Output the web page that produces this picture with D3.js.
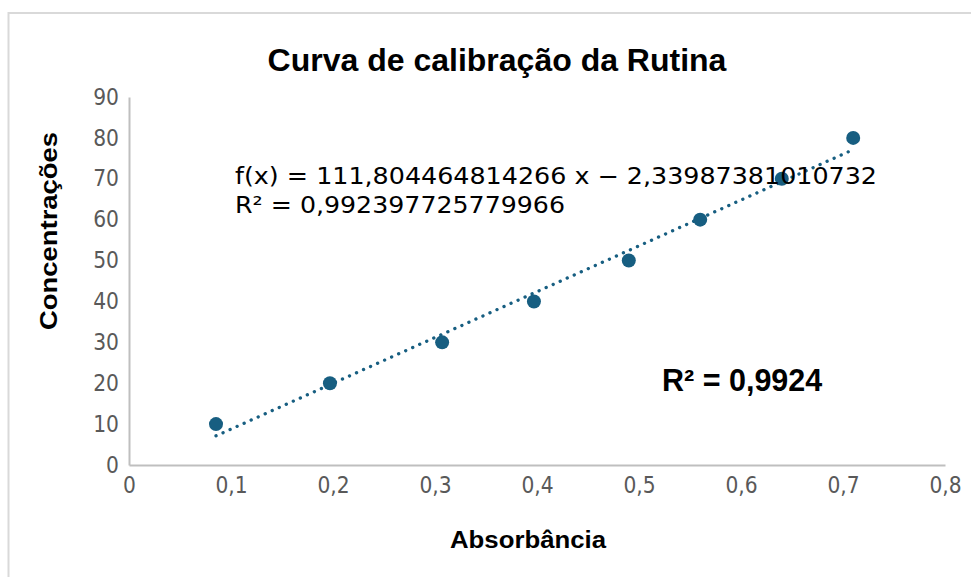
<!DOCTYPE html>
<html>
<head>
<meta charset="utf-8">
<script src="https://cdn.jsdelivr.net/npm/d3@7"></script>
<style>
  body { margin: 0; background: #fff; }
  svg { display: block; }
</style>
</head>
<body>
<div id="chart"></div>
<script>
// dados
const absorbancia = [0.0853, 0.197, 0.307, 0.397, 0.490, 0.560, 0.640, 0.710];
const concentracoes = [10, 20, 30, 40, 50, 60, 70, 80];
const xTicks = [0, 0.1, 0.2, 0.3, 0.4, 0.5, 0.6, 0.7, 0.8];
const yTicks = [0, 10, 20, 30, 40, 50, 60, 70, 80, 90];
const equacao = "f(x) = 111,804464814266 x \u2212 2,33987381010732";
const r2Texto = "R\u00b2 = 0,992397725779966";
const r2Curto = "R\u00b2 = 0,9924";

const width = 971, height = 577;
const margin = { top: 97, right: 26, bottom: 112, left: 129 };

const svg = d3.select("#chart").append("svg")
  .attr("width", width)
  .attr("height", height);

// moldura
svg.append("rect")
  .attr("x", 8.5).attr("y", 13)
  .attr("width", 980).attr("height", 600)
  .attr("fill", "none")
  .attr("stroke", "#d9d9d9")
  .attr("stroke-width", 2);

const x = d3.scaleLinear().domain([0, 0.8]).range([margin.left, width - margin.right]);
const y = d3.scaleLinear().domain([0, 90]).range([height - margin.bottom, margin.top]);

const fmt = d => String(d).replace(".", ",");
const tickFont = "'DejaVu Sans Condensed', 'DejaVu Sans'";

// eixo x
const gx = svg.append("g")
  .attr("transform", `translate(0,${y(0)})`)
  .call(d3.axisBottom(x).tickValues(xTicks).tickFormat(fmt).tickSize(0).tickPadding(12));
gx.select(".domain").attr("stroke", "#bfbfbf").attr("stroke-width", 2);
gx.selectAll("text")
  .attr("fill", "#595959")
  .style("font-family", tickFont)
  .style("font-size", "22.5px");

// eixo y
const gy = svg.append("g")
  .attr("transform", `translate(${x(0)},0)`)
  .call(d3.axisLeft(y).tickValues(yTicks).tickFormat(fmt).tickSize(0).tickPadding(10));
gy.select(".domain").attr("stroke", "#bfbfbf").attr("stroke-width", 2);
gy.selectAll("text")
  .attr("fill", "#595959")
  .style("font-family", tickFont)
  .style("font-size", "22.5px");

// linha de tendencia (regressao linear)
const n = absorbancia.length;
const mx = d3.mean(absorbancia), my = d3.mean(concentracoes);
let sxy = 0, sxx = 0;
for (let i = 0; i < n; i++) {
  sxy += (absorbancia[i] - mx) * (concentracoes[i] - my);
  sxx += (absorbancia[i] - mx) ** 2;
}
const slope = sxy / sxx, intercept = my - slope * mx;
const xr = d3.extent(absorbancia);

svg.append("line")
  .attr("x1", x(xr[0])).attr("y1", y(slope * xr[0] + intercept))
  .attr("x2", x(xr[1])).attr("y2", y(slope * xr[1] + intercept))
  .attr("stroke", "#175e81")
  .attr("stroke-width", 3.3)
  .attr("stroke-linecap", "round")
  .attr("stroke-dasharray", "0.1 7.6");

// pontos
svg.selectAll(".ponto")
  .data(absorbancia)
  .enter()
  .append("circle")
  .attr("class", "ponto")
  .attr("cx", d => x(d))
  .attr("cy", (d, i) => y(concentracoes[i]))
  .attr("r", 7)
  .attr("fill", "#175e81");

// titulo
svg.append("text")
  .attr("x", 497).attr("y", 71)
  .attr("text-anchor", "middle")
  .style("font-family", "'Liberation Sans', Arial")
  .style("font-weight", "bold")
  .style("font-size", "32px")
  .text("Curva de calibração da Rutina");

// titulos dos eixos
svg.append("text")
  .attr("x", 450).attr("y", 548)
  .attr("textLength", 156)
  .attr("lengthAdjust", "spacingAndGlyphs")
  .style("font-family", "'Liberation Sans', Arial")
  .style("font-weight", "bold")
  .style("font-size", "23px")
  .text("Absorbância");

svg.append("text")
  .attr("transform", "translate(57,330) rotate(-90)")
  .attr("textLength", 198)
  .attr("lengthAdjust", "spacingAndGlyphs")
  .style("font-family", "'Liberation Sans', Arial")
  .style("font-weight", "bold")
  .style("font-size", "24px")
  .text("Concentrações");

// equacao
svg.append("text")
  .attr("x", 235).attr("y", 184)
  .attr("textLength", 642)
  .attr("lengthAdjust", "spacingAndGlyphs")
  .style("font-family", "'DejaVu Sans'")
  .style("font-size", "23px")
  .text(equacao);
svg.append("text")
  .attr("x", 235).attr("y", 213)
  .attr("textLength", 330)
  .attr("lengthAdjust", "spacingAndGlyphs")
  .style("font-family", "'DejaVu Sans'")
  .style("font-size", "23px")
  .text(r2Texto);

svg.append("text")
  .attr("x", 662).attr("y", 391)
  .style("font-family", "'Liberation Sans', Arial")
  .style("font-weight", "bold")
  .style("font-size", "30.5px")
  .text(r2Curto);
</script>
</body>
</html>
